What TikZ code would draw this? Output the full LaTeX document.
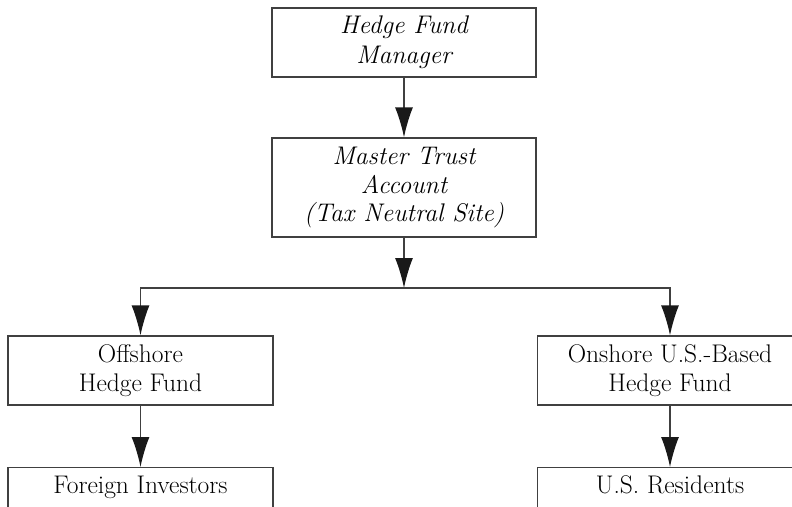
\documentclass[tikz,border=0pt]{standalone}
\usetikzlibrary{arrows.meta}
\tikzset{
  box/.style={draw=black!75, line width=1.3pt, minimum width=264pt, inner sep=4pt, align=center,
    font=\fontsize{25.5pt}{29pt}\selectfont},
  botbox/.style={box, anchor=north, text height=22pt, text depth=60pt, inner ysep=4pt},
  arr/.style={draw=black!75, line width=1.3pt, -{Latex[length=30pt,width=18pt,black!90]}}
}
\begin{document}
\begin{tikzpicture}[x=1pt, y=-1pt]
    \useasboundingbox (0,0) rectangle (792,506);
    \clip (0,0) rectangle (792,506);
    % Manager and master trust: italic boxes
    \node[box, minimum height=69pt, font=\fontsize{25.5pt}{30pt}\selectfont\itshape] (mgr) at (404,42.5)
        {Hedge Fund\\Manager};
    \node[box, minimum height=99pt, font=\fontsize{25.5pt}{28.5pt}\selectfont\itshape] (trust) at (404,187.5)
        {Master Trust\\Account\\(Tax Neutral Site)};
    % The two funds
    \node[box, minimum width=265pt, minimum height=69pt] (off) at (140.5,370.5) {Offshore\\Hedge Fund};
    \node[box, minimum width=265pt, minimum height=69pt] (on) at (670,370.5) {Onshore U.S.-Based\\Hedge Fund};
    % Investors, cut off at the bottom
    \node[botbox, minimum width=265pt] (foreign) at (140.5,467) {Foreign Investors};
    \node[botbox, minimum width=265pt] (usres) at (670,467) {U.S. Residents};
    % Arrows
    \coordinate (bus) at (404,288);
    \draw[arr] (mgr) -- (trust);
    \draw[arr] (trust) -- (bus);
    \draw[arr] (bus) -| (off);
    \draw[arr] (bus) -| (on);
    \draw[arr] (off) -- (foreign);
    \draw[arr] (on) -- (usres);
\end{tikzpicture}
\end{document}
